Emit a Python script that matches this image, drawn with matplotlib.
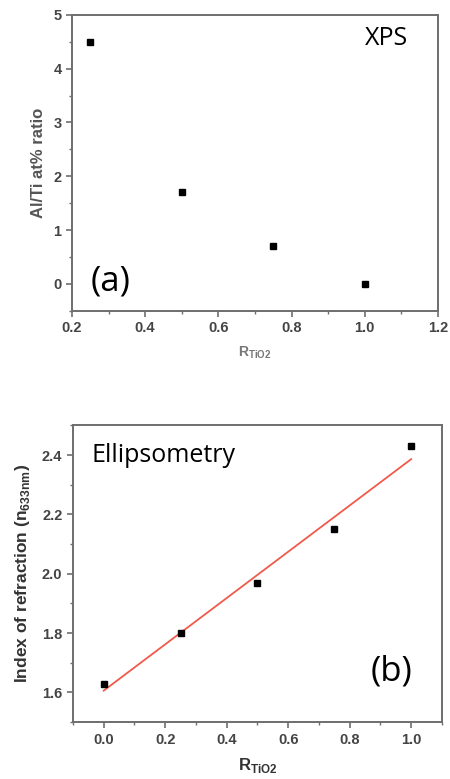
import numpy as np
from matplotlib import pyplot as plt
from matplotlib.ticker import MultipleLocator

# panel (a): XPS
r_xps = [0.25, 0.5, 0.75, 1.0]
alti_ratio = [4.5, 1.7, 0.7, 0.0]
xt_a = [0.2, 0.4, 0.6, 0.8, 1.0, 1.2]
yt_a = [0, 1, 2, 3, 4, 5]

# panel (b): ellipsometry
r_ell = [0.0, 0.25, 0.5, 0.75, 1.0]
n_633 = [1.63, 1.80, 1.97, 2.15, 2.43]
xt_b = [0.0, 0.2, 0.4, 0.6, 0.8, 1.0]
yt_b = [1.6, 1.8, 2.0, 2.2, 2.4]

plt.rcParams['font.family'] = ['Liberation Sans', 'DejaVu Sans']
plt.rcParams['mathtext.fontset'] = 'custom'
plt.rcParams['mathtext.bf'] = 'Liberation Sans:bold'
plt.rcParams['mathtext.rm'] = 'Liberation Sans'

frame = '#6e6e6e'
tickc = '#444444'
bold = dict(fontweight='bold', family='Liberation Sans')

fig = plt.figure(figsize=(4.5, 7.79), dpi=100)
ax1 = fig.add_axes([0.16, 0.601, 0.813, 0.380])
ax2 = fig.add_axes([0.162, 0.073, 0.820, 0.381])


def style(ax, xt, yt, xfmt, yfmt):
    for sp in ax.spines.values():
        sp.set_color(frame)
        sp.set_linewidth(1.4)
    ax.tick_params(which='both', direction='out', colors=frame,
                   labelcolor=tickc, top=False, right=False)
    ax.tick_params(which='major', length=4, width=1.2)
    ax.tick_params(which='minor', length=2.5, width=1.0)
    ax.set_xticks(xt)
    ax.set_xticklabels([xfmt % v for v in xt], fontsize=10.5, **bold)
    ax.set_yticks(yt)
    ax.set_yticklabels([yfmt % v for v in yt], fontsize=10.5, **bold)


# (a)
ax1.plot(r_xps, alti_ratio, 's', color='black', markersize=4.5)
ax1.set_xlim(0.2, 1.2)
ax1.set_ylim(-0.5, 5)
style(ax1, xt_a, yt_a, '%.1f', '%d')
ax1.xaxis.set_minor_locator(MultipleLocator(0.1))
ax1.yaxis.set_minor_locator(MultipleLocator(0.5))
ax1.set_xlabel(r'R$_{\mathbf{TiO2}}$', fontsize=10,
               color='#777777', labelpad=7, **bold)
ax1.set_ylabel('Al/Ti at% ratio', fontsize=12,
               color='#555555', labelpad=5, **bold)
ax1.text(0.92, 0.92, 'XPS', transform=ax1.transAxes, fontsize=18,
         family='Open Sans', ha='right', va='center')
ax1.text(0.05, 0.10, '(a)', transform=ax1.transAxes, fontsize=25,
         family='Open Sans', ha='left', va='center')

# (b)
coef = np.polyfit(r_ell, n_633, 1)
xs = np.array([min(r_ell), max(r_ell)])
ax2.plot(xs, np.polyval(coef, xs), '-', color='#f05a4a', linewidth=1.3)
ax2.plot(r_ell, n_633, 's', color='black', markersize=4.5)
ax2.set_xlim(-0.1, 1.1)
ax2.set_ylim(1.5, 2.5)
style(ax2, xt_b, yt_b, '%.1f', '%.1f')
ax2.xaxis.set_minor_locator(MultipleLocator(0.1))
ax2.yaxis.set_minor_locator(MultipleLocator(0.1))
ax2.set_xlabel(r'R$_{\mathbf{TiO2}}$', fontsize=12,
               color='#333333', labelpad=7, **bold)
ax2.set_ylabel(r'Index of refraction (n$_{\mathbf{633nm}}$)', fontsize=12.5,
               color='#333333', labelpad=7, **bold)
ax2.text(0.05, 0.90, 'Ellipsometry', transform=ax2.transAxes, fontsize=18,
         family='Open Sans', ha='left', va='center')
ax2.text(0.92, 0.17, '(b)', transform=ax2.transAxes, fontsize=25,
         family='Open Sans', ha='right', va='center')

fig.savefig('out.png', dpi=100)
